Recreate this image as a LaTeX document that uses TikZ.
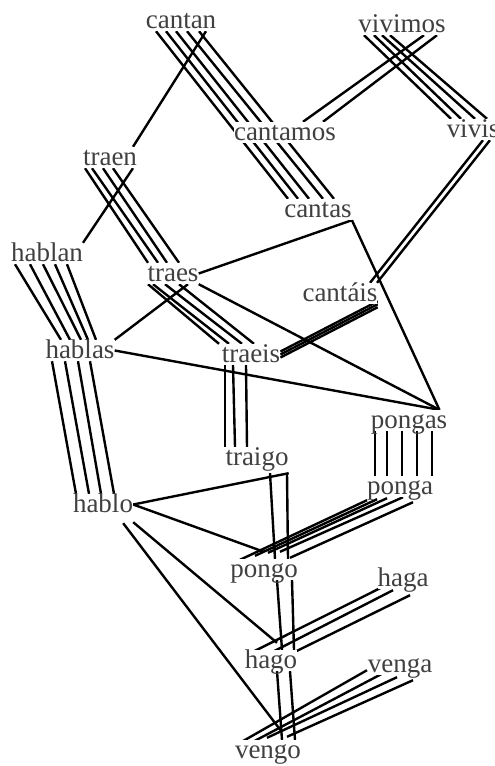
\documentclass[tikz,border=0pt]{standalone}
\usepackage{fontspec}
\setmainfont{Liberation Serif}
\usetikzlibrary{backgrounds}

\begin{document}
\begin{tikzpicture}[
    x=1pt, y=-1pt,
    form/.style={font=\fontsize{27}{30}\selectfont, text=black!75, fill=white,
                 inner sep=0pt, text height=18pt, text depth=3pt, anchor=base},
    link/.style={line width=2.4pt, draw=black}
]
\useasboundingbox (0,0) rectangle (495,766);
% verb forms
\node[form] (cantan) at (181,28) {cantan};
\node[form] (vivimos) at (402,32) {vivimos};
\node[form] (cantamos) at (285,140) {cantamos};
\node[form] (vivis) at (473,137) {vivis};
\node[form] (traen) at (110,165) {traen};
\node[form] (cantas) at (318,217) {cantas};
\node[form] (hablan) at (47,261) {hablan};
\node[form] (traes) at (173,281) {traes};
\node[form] (cantais) at (340,301) {cantáis};
\node[form] (hablas) at (80,358) {hablas};
\node[form] (traeis) at (251,362) {traeis};
\node[form] (pongas) at (409,428) {pongas};
\node[form] (traigo) at (257,465) {traigo};
\node[form] (ponga) at (400,494) {ponga};
\node[form] (hablo) at (103,512) {hablo};
\node[form] (pongo) at (264,577) {pongo};
\node[form] (haga) at (403,586) {haga};
\node[form] (hago) at (271,668) {hago};
\node[form] (venga) at (400,672) {venga};
\node[form] (vengo) at (268,758) {vengo};

\begin{scope}[on background layer]
% single links
\draw[link] ([xshift=25pt]cantan.south) -- ([xshift=23pt]traen.north);
\draw[link] ([xshift=23pt]traen.south) -- ([xshift=36pt]hablan.north);
\draw[link] (cantas.south east) -- (traes.east);
\draw[link] (cantas.south east) -- ([xshift=-8pt]pongas.north east);
\draw[link] (traes.south east) -- ([xshift=-8pt]pongas.north east);
\draw[link] ([xshift=15pt]traes.south) -- (hablas.north east);
\draw[link] (hablas.east) -- ([xshift=-8pt]pongas.north east);
\draw[link] (hablo.east) -- ([yshift=-5pt]traigo.south east);
\draw[link] (hablo.east) -- ([yshift=7pt]pongo.north);
\draw[link] ([yshift=-7pt]hablo.south east) -- ([shift={(6,-7)}]hago.north);
\draw[link] ([shift={(-10,8)}]hablo.south east) -- ([shift={(13,-9)}]vengo.north);

% bundles
\foreach \a/\b in {-25/-30,-15/-20,-5/-9,6/5,18/16}
  \draw[link] ([xshift=\a pt]cantan.south) -- ([xshift=\b pt]cantas.north);
\foreach \a/\b in {22/18,35/38}
  \draw[link] ([xshift=\a pt]vivimos.south) -- ([xshift=\b pt]cantamos.north);
\foreach \a/\b in {-38/-22,-28/-12,-20/2,-12/14}
  \draw[link] ([xshift=\a pt]vivimos.south) -- ([xshift=\b pt]vivis.north);
\foreach \a/\b in {10/30,17/37}
  \draw[link] ([xshift=\a pt]vivis.south) -- ([xshift=\b pt]cantais.north);
\foreach \a/\b in {-25/-25,-18/-15,-7/-6,3/6}
  \draw[link] ([xshift=\a pt]traen.south) -- ([xshift=\b pt]traes.north);
\foreach \a/\b in {-25/-32,-20/-22,-8/-9,6/3}
  \draw[link] ([xshift=\a pt]traes.south) -- ([xshift=\b pt]traeis.north);
\foreach \s in {-3,0,3}
  \draw[link] ([yshift=\s pt]traeis.east) -- ([yshift=\s pt]cantais.south east);
\foreach \a/\b in {-32/-19,-17/-10,-4/1,8/8,20/16}
  \draw[link] ([xshift=\a pt]hablan.south) -- ([xshift=\b pt]hablas.north);
\foreach \a/\b in {-28/-27,-15/-14,-2/-2,10/11}
  \draw[link] ([xshift=\a pt]hablas.south) -- ([xshift=\b pt]hablo.north);
\foreach \a/\b in {-26/-32,-18/-22,-5/-10}
  \draw[link] ([xshift=\a pt]traeis.south) -- ([xshift=\b pt]traigo.north);
\foreach \a/\b in {-34/-25,-22/-13,-7/2,8/17,23/32}
  \draw[link] ([xshift=\a pt]pongas.south) -- ([xshift=\b pt]ponga.north);
\foreach \a/\b in {13/11,30/24}
  \draw[link] ([shift={(\a,5)}]traigo.south) -- ([xshift=\b pt]pongo.north);
\foreach \a/\b in {13/11,28/23}
  \draw[link] ([xshift=\a pt]pongo.south) -- ([xshift=\b pt]hago.north);
\foreach \a/\b in {6/14,19/27}
  \draw[link] ([xshift=\a pt]hago.south) -- ([xshift=\b pt]vengo.north);
\foreach \a/\b/\c/\d in {-33/3/-24/1,-23/2/-9/-3,-13/1/4/-6,3/0/16/-7,13/5/26/-1}
  \draw[link] ([shift={(\a,\b)}]ponga.south) -- ([shift={(\c,\d)}]pongo.north);
\foreach \a/\b/\c/\d in {-23/-1/-18/2,-10/1/-4/5,7/6/22/3}
  \draw[link] ([shift={(\a,\b)}]haga.south) -- ([shift={(\c,\d)}]hago.north);
\foreach \a/\b/\c/\d in {-33/-5/-28/3,-17/-2/-15/2,-3/2/-1/-2,13/5/19/-3}
  \draw[link] ([shift={(\a,\b)}]venga.south) -- ([shift={(\c,\d)}]vengo.north);
\end{scope}
\end{tikzpicture}
\end{document}
